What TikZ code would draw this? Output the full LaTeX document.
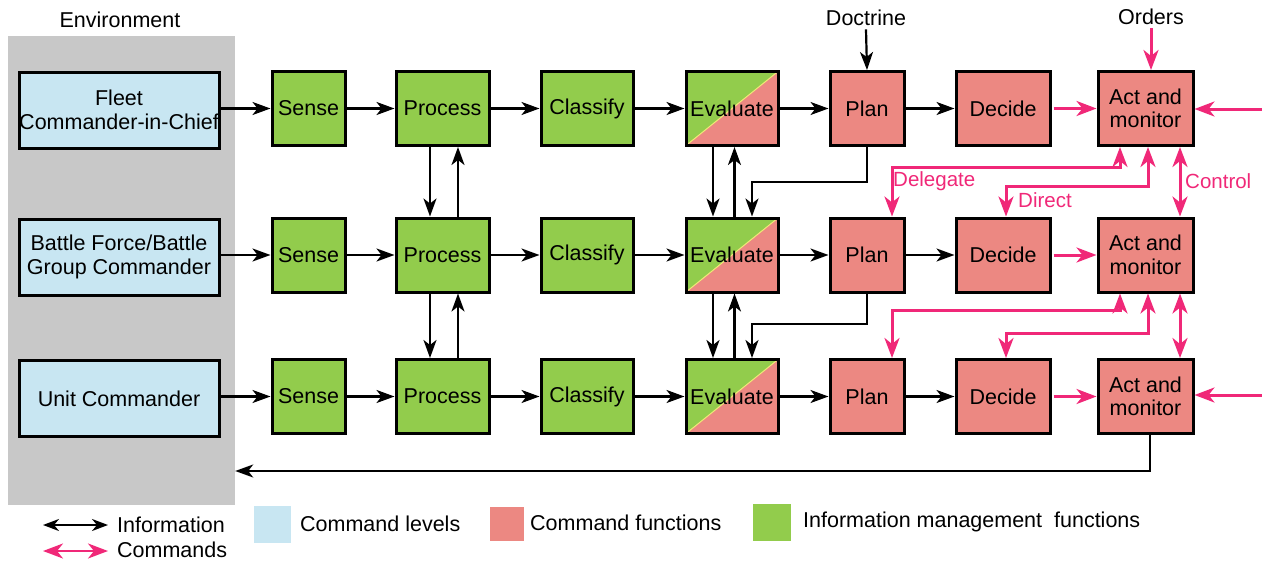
\documentclass[tikz,border=0pt]{standalone}
\usepackage{fontspec}
\setmainfont{Liberation Sans}
\usetikzlibrary{arrows.meta}
\definecolor{gfill}{RGB}{146,204,76}
\definecolor{pfill}{RGB}{236,136,130}
\definecolor{bfill}{RGB}{200,230,242}
\definecolor{envgray}{RGB}{200,200,200}
\definecolor{cmd}{RGB}{240,40,120}
\definecolor{diagy}{RGB}{240,232,120}
\tikzset{
  txt/.style={font=\fontsize{21.5}{23.5}\selectfont},
  box/.style={txt, draw=black, line width=3pt, align=center, inner sep=0pt, minimum height=74pt},
  lvl/.style={box, fill=bfill, minimum width=200pt, minimum height=76pt},
  imf/.style={box, fill=gfill},
  cmf/.style={box, fill=pfill},
  evalb/.style={box, fill=gfill, path picture={
      \fill[pfill] (path picture bounding box.south west) -- (path picture bounding box.north east) -- (path picture bounding box.south east) -- cycle;
      \draw[diagy, line width=1pt] (path picture bounding box.south west) -- (path picture bounding box.north east);}},
  inf/.style={line width=2.2pt, -{Stealth[length=18pt,width=13pt,inset=5pt]}},
  infbi/.style={line width=2.2pt, {Stealth[length=16pt,width=12pt,inset=5pt]}-{Stealth[length=16pt,width=12pt,inset=5pt]}},
  cmdar/.style={draw=cmd, line width=3pt, -{Stealth[length=20pt,width=15pt,inset=6pt]}},
  cmdbi/.style={draw=cmd, line width=3pt, {Stealth[length=20pt,width=15pt,inset=6pt]}-{Stealth[length=20pt,width=15pt,inset=6pt]}},
  lbl/.style={txt},
  plbl/.style={font=\fontsize{20.5}{22}\selectfont, text=cmd, anchor=west, inner sep=0pt},
  swatch/.style={inner sep=0pt},
  leg/.style={txt, anchor=west, inner sep=0pt}
}
\begin{document}
\begin{tikzpicture}[x=1pt,y=-1pt]
\useasboundingbox (0,0) rectangle (1262,562);
% environment
\node[fill=envgray, minimum width=227pt, minimum height=469pt, inner sep=0pt] (env) at (121.5,270.5) {};
\node[lbl] (envl) at (120,20) {Environment};
% command levels
\node[lvl] (L1) at (119,110) {Fleet\\Commander-in-Chief};
\node[lvl] (L2) at (119,257) {Battle Force/Battle\\Group Commander};
\node[lvl] (L3) at (119,398.5) {Unit Commander};
% rows
\foreach \r/\y in {1/108.5,2/255,3/396.5}{
  \node[imf, minimum width=73pt] (S\r) at (308.5,\y) {Sense};
  \node[imf, minimum width=93pt] (P\r) at (442.5,\y) {Process};
  \node[imf, minimum width=92pt] (C\r) at (587,\y) {Classify};
  \node[evalb, minimum width=92pt] (E\r) at (732,\y) {Evaluate};
  \node[cmf, minimum width=74pt] (N\r) at (867,\y) {Plan};
  \node[cmf, minimum width=94pt] (D\r) at (1003,\y) {Decide};
  \node[cmf, minimum width=95pt] (A\r) at (1145.5,\y) {Act and\\monitor};
}
\foreach \r in {1,2,3}{
  \draw[inf] (S\r.west -| L\r.east) -- (S\r.west);
  \draw[inf] (S\r.east) -- (P\r.west);
  \draw[inf] (P\r.east) -- (C\r.west);
  \draw[inf] (C\r.east) -- (E\r.west);
  \draw[inf] (E\r.east) -- (N\r.west);
  \draw[inf] (N\r.east) -- (D\r.west);
  \draw[cmdar] ([xshift=2pt]D\r.east) -- (A\r.west);
}
% vertical information flows
\foreach \u/\l in {1/2,2/3}{
  \draw[inf] ([xshift=-12.5pt]P\u.south) -- ([xshift=-12.5pt]P\l.north);
  \draw[inf] ([xshift=15.5pt]P\l.north) -- ([xshift=15.5pt]P\u.south);
  \draw[inf] ([xshift=-19pt]E\u.south) -- ([xshift=-19pt]E\l.north);
  \draw[inf] ([xshift=2.5pt]E\l.north) -- ([xshift=2.5pt]E\u.south);
}
\coordinate (h1) at (0,182);
\coordinate (h2) at (0,324);
\draw[inf] (N1.south) -- (N1.south |- h1) -| ([xshift=20pt]E2.north);
\draw[inf] (N2.south) -- (N2.south |- h2) -| ([xshift=20pt]E3.north);
% doctrine, orders
\node[lbl] (doc) at (866,18) {Doctrine};
\draw[inf] (doc.south) -- (N1.north);
\node[lbl] (ord) at (1151,17) {Orders};
\draw[cmdar] (ord.south) -- (ord.south |- A1.north);
% right edge commands
\coordinate (r1) at (1262,109);
\coordinate (r3) at (1262,395);
\draw[cmdar] (r1) -- (r1 -| A1.east);
\draw[cmdar] (r3) -- (r3 -| A3.east);
% delegate / direct / control
\coordinate (dg1) at (0,167);
\coordinate (dr1) at (0,186);
\coordinate (dg2) at (0,310);
\coordinate (dr2) at (0,333);
\foreach \u/\l in {1/2,2/3}{
  \coordinate (ag\u) at ([xshift=-25.5pt]A\u.south);
  \coordinate (ad\u) at ([xshift=2.5pt]A\u.south);
  \draw[cmdbi] (ag\u) -- (ag\u |- dg\u) -| ([xshift=25pt]N\l.north);
  \draw[cmdbi] (ad\u) -- (ad\u |- dr\u) -| ([xshift=3pt]D\l.north);
  \draw[cmdbi] ([xshift=34.5pt]A\u.south) -- ([xshift=34.5pt]A\l.north);
}
\node[plbl] (tdel) at (893,181) {Delegate};
\node[plbl] (tdir) at (1018,200) {Direct};
\node[plbl] (tcon) at (1185,181) {Control};
% feedback to environment
\coordinate (fb) at (0,471);
\draw[inf, line width=1.8pt] ([xshift=4.5pt]A3.south) -- ([xshift=4.5pt]A3.south |- fb) -- (fb -| env.east);
% legend
\coordinate (la1) at (43,525);
\coordinate (lb1) at (108,525);
\coordinate (la2) at (43,551);
\coordinate (lb2) at (108,551);
\draw[infbi] (la1) -- (lb1);
\draw[cmdbi, line width=2.4pt] (la2) -- (lb2);
\node[leg] (tinf) at (117,525) {Information};
\node[leg] (tcmd) at (117,550) {Commands};
\node[swatch, fill=bfill, minimum width=37pt, minimum height=37pt] (sw1) at (272.5,524.5) {};
\node[leg] (t1) at (300,524) {Command levels};
\node[swatch, fill=pfill, minimum width=34pt, minimum height=34pt] (sw2) at (507,524) {};
\node[leg] (t2) at (530,523) {Command functions};
\node[swatch, fill=gfill, minimum width=38pt, minimum height=37pt] (sw3) at (772,522.5) {};
\node[leg] (t3) at (803,522) {Information management\ \ functions};
\end{tikzpicture}
\end{document}
